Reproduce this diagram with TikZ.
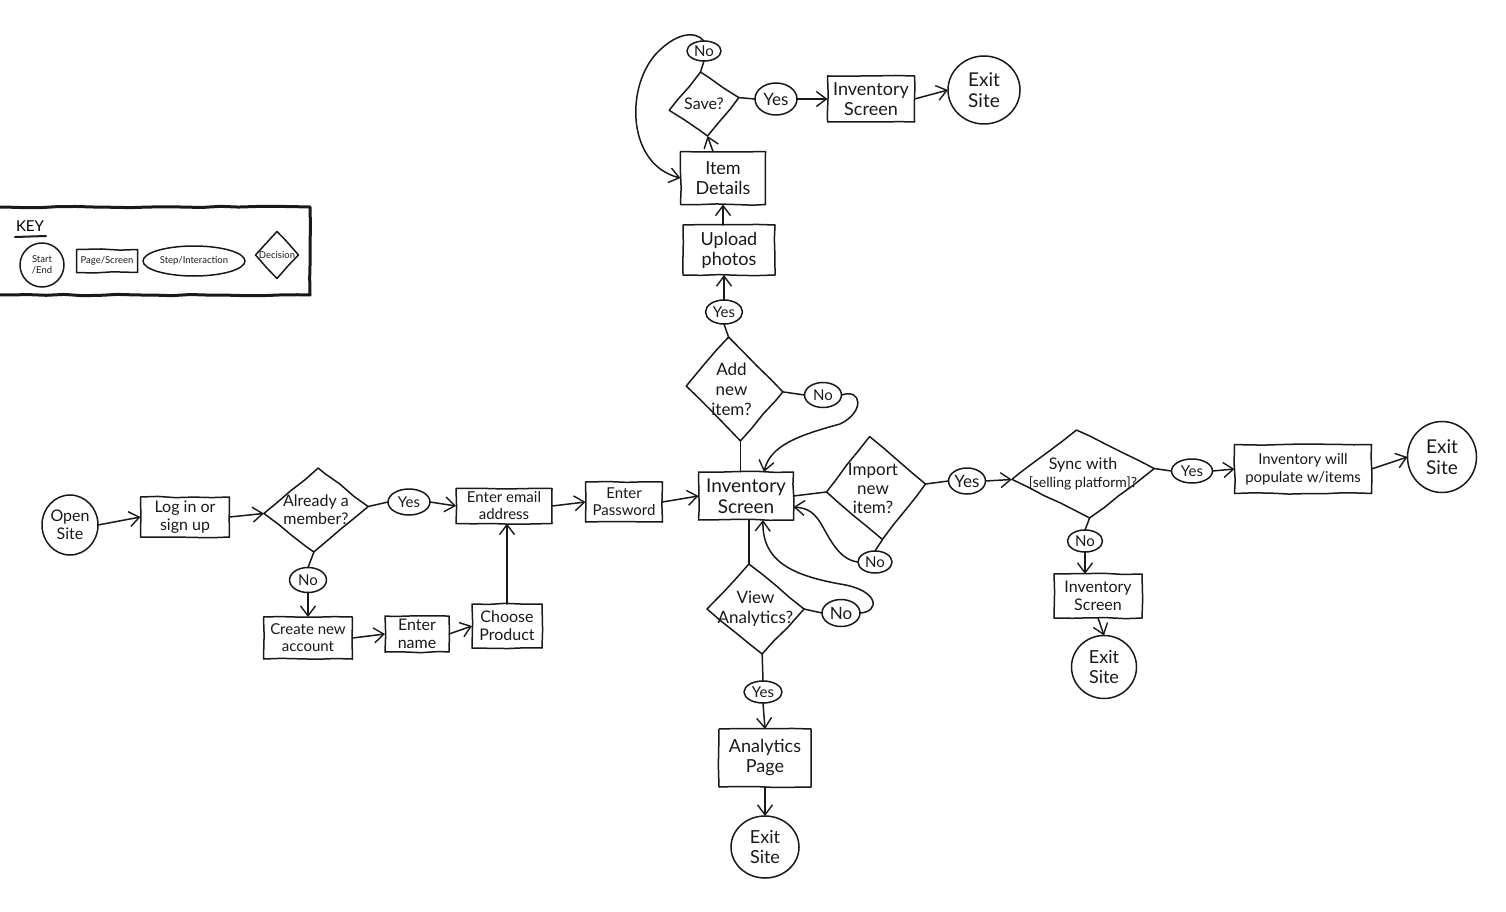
\documentclass[tikz,border=0pt]{standalone}
\usepackage{fontspec}
\setmainfont{Lato}
\usetikzlibrary{shapes.geometric,arrows.meta,decorations.pathmorphing}
\tikzset{
  x=1pt,y=-1pt,
  ln/.style={line width=1.5pt,line cap=round,line join=round,draw=black!90},
  wob/.style={decorate,decoration={random steps,segment length=18pt,amplitude=0.7pt}},
  shp/.style={ln,inner sep=0pt,outer sep=0pt,align=center,font=\fontsize{16}{18}\selectfont,text=black!90},
  pagebox/.style={shp,rectangle,wob},
  round1/.style={shp,ellipse},
  stepell/.style={shp,ellipse,font=\fontsize{15}{17}\selectfont},
  deci/.style={shp,diamond,wob},
  every label/.style={align=center,inner sep=0pt,font=\fontsize{16}{18}\selectfont,text=black!90},
  sz/.style 2 args={minimum width=#1pt,minimum height=#2pt},
  arr/.style={ln,-{Straight Barb[length=10pt,width=15pt,line width=1.4pt]}},
  con/.style={ln},
  tiny/.style={font=\fontsize{9.5}{11}\selectfont},
}
\begin{document}
\begin{tikzpicture}
\useasboundingbox (0,0) rectangle (1506,912);
% key
\node[ln,line width=3pt,rectangle,wob,sz={318}{88}] (keyB) at (151,251) {};
\node[font=\fontsize{15}{16}\selectfont,inner sep=0pt] (keyT) at (30,226) {KEY};
\coordinate (keyU1) at (15,237);
\coordinate (keyU2) at (46,236);
\draw[ln,line width=2pt] (keyU1) -- (keyU2);
\node[round1,sz={44}{44},tiny] (kS) at (42,265) {Start\\/End};
\node[pagebox,sz={61}{23},tiny] (kP) at (107,261) {Page/Screen};
\node[stepell,sz={102}{30},tiny] (kE) at (194,261) {Step/Interaction};
\node[deci,sz={43}{47},label={[tiny]center:Decision}] (kD) at (277,255) {};
% circles
\node[round1,sz={56}{60}] (open) at (70,525) {Open\\Site};
\node[round1,sz={72}{68},font=\fontsize{19}{21}\selectfont] (exitA) at (984,90) {Exit\\Site};
\node[round1,sz={69}{71},font=\fontsize{19}{21}\selectfont] (exitB) at (1442,457) {Exit\\Site};
\node[round1,sz={65}{63},font=\fontsize{18}{20}\selectfont] (exitC) at (1104,667) {Exit\\Site};
\node[round1,sz={68}{62},font=\fontsize{18}{20}\selectfont] (exitD) at (765,847) {Exit\\Site};
% pages
\node[pagebox,sz={89}{40}] (login) at (185,517) {Log in or\\sign up};
\node[pagebox,sz={96}{35},font=\fontsize{15}{17}\selectfont] (email) at (504,506) {Enter email\\address};
\node[pagebox,sz={77}{40},font=\fontsize{15}{17}\selectfont] (pw) at (624,502) {Enter\\Password};
\node[pagebox,sz={95}{48},font=\fontsize{19}{21}\selectfont] (inv) at (746,496) {Inventory\\Screen};
\node[pagebox,sz={89}{42},font=\fontsize{15}{17}\selectfont] (create) at (308,638) {Create new\\account};
\node[pagebox,sz={64}{36}] (name) at (417,634) {Enter\\name};
\node[pagebox,sz={70}{44}] (choose) at (507,626) {Choose\\Product};
\node[pagebox,sz={92}{50},font=\fontsize{18}{20}\selectfont] (upload) at (729,250) {Upload\\photos};
\node[pagebox,sz={85}{53},font=\fontsize{18}{20}\selectfont] (item) at (723,178) {Item\\Details};
\node[pagebox,sz={87}{46},font=\fontsize{18}{20}\selectfont] (invT) at (871,99) {Inventory\\Screen};
\node[pagebox,sz={137}{49},font=\fontsize{15}{18}\selectfont] (invW) at (1303,469) {Inventory will\\populate w/items};
\node[pagebox,sz={88}{44}] (invR) at (1098,596) {Inventory\\Screen};
\node[pagebox,sz={92}{58},font=\fontsize{18}{20}\selectfont] (ana) at (765,758) {Analytics\\Page};
% decisions
\node[deci,sz={104}{84},xslant=0.05,yslant=0.067,label=center:{Already a\\member?}] (member) at (316,510) {};
\node[deci,sz={96}{104},xslant=-0.115,yslant=-0.06,label={[font=\fontsize{17}{20}\selectfont,xshift=-3pt]center:{Add\\new\\item?}}] (add) at (734.5,389) {};
\node[deci,sz={100}{103},xslant=-0.126,yslant=0.08,label={[font=\fontsize{17}{19}\selectfont,xshift=-3pt]center:{Import\\new\\item?}}] (import) at (876,488) {};
\node[deci,sz={97}{90},xslant=-0.148,label={[font=\fontsize{17}{20}\selectfont]center:{View\\Analytics?}}] (view) at (755.5,609) {};
\node[deci,sz={144}{88},xslant=-0.15,yslant=0.076,label={center:{Sync with\\{\fontsize{14}{18}\selectfont [selling platform]?}}}] (sync) at (1083,474) {};
\node[deci,sz={71}{64},xslant=-0.11,yslant=0.18,label={[font=\fontsize{16}{19}\selectfont]center:Save?}] (save) at (704,104) {};
% yes/no
\node[stepell,sz={42}{26}] (yMember) at (409,502) {Yes};
\node[stepell,sz={37}{25}] (nMember) at (308,580) {No};
\node[stepell,sz={37}{24}] (yAdd) at (724,312) {Yes};
\node[stepell,sz={37}{25}] (nAdd) at (823,395) {No};
\node[stepell,sz={37}{26},font=\fontsize{17}{19}\selectfont] (yImport) at (967,481) {Yes};
\node[stepell,sz={34}{22}] (nImport) at (875,562) {No};
\node[stepell,sz={38}{27},font=\fontsize{17}{19}\selectfont] (nView) at (841,613) {No};
\node[stepell,sz={38}{22}] (yView) at (763,692) {Yes};
\node[stepell,sz={41}{24}] (ySync) at (1192,471) {Yes};
\node[stepell,sz={35}{22}] (nSync) at (1085,541) {No};
\node[stepell,sz={42}{32},font=\fontsize{17}{19}\selectfont] (ySave) at (776,99) {Yes};
\node[stepell,sz={34}{20}] (nSave) at (704,51) {No};
% connectors
\draw[arr] (open.east) -- (login.west);
\draw[arr] (login.east) -- (member.west);
\draw[con] (member.east) -- (yMember.west);
\draw[arr] (yMember.east) -- (email.west);
\draw[arr] (email.east) -- (pw.west);
\draw[arr] (pw.east) -- (inv.west);
\draw[con] (member.south) -- (nMember.north);
\draw[arr] (nMember.south) -- (nMember.south |- create.north);
\draw[arr] (create.east) -- (name.west);
\draw[arr] (name.east) -- (choose.west);
\draw[arr] (choose.north) -- (choose.north |- email.south);
\draw[con] (add.south) -- (add.south |- inv.north);
\draw[con] (add.north) -- (yAdd.south);
\draw[arr] (yAdd.north) -- (yAdd.north |- upload.south);
\draw[arr] (item.south |- upload.north) -- (item.south);
\draw[arr] ([xshift=-10pt]item.north) -- (save.south);
\draw[con] (save.east) -- (ySave.west);
\draw[arr] (ySave.east) -- (invT.west);
\draw[arr] (invT.east) -- (exitA.west);
\draw[con] (save.north) -- (nSave.south);
\draw[arr] (nSave.north) .. controls (695,30) and (675,33) .. (655,55) .. controls (625,90) and (628,165) .. (item.west);
\draw[con] (add.east) -- (nAdd.west);
\draw[arr] (nAdd.east) .. controls (862,388) and (865,412) .. (840,424) .. controls (800,435) and (770,445) .. ([xshift=18pt]inv.north);
\draw[con] (inv.east) -- (import.west);
\draw[con] (import.east) -- (yImport.west);
\draw[arr] (yImport.east) -- (sync.west);
\draw[con] (sync.east) -- (ySync.west);
\draw[arr] (ySync.east) -- (invW.west);
\draw[arr] (invW.east) -- (exitB.west);
\draw[con] (sync.south) -- (nSync.north);
\draw[arr] (nSync.south) -- (nSync.south |- invR.north);
\draw[arr] (invR.south) -- (exitC.north);
\draw[con] (import.south) -- (nImport.north);
\draw[arr] (nImport.west) .. controls (838,560) and (828,535) .. (820,522) .. controls (812,510) and (805,508) .. ([yshift=-11pt]inv.east);
\draw[con] (view.north) -- (view.north |- inv.south);
\draw[con] (view.east) -- (nView.west);
\draw[arr] (nView.east) .. controls (880,612) and (880,590) .. (840,584) .. controls (790,575) and (762,560) .. ([xshift=17pt]inv.south);
\draw[con] (view.south) -- (yView.north);
\draw[arr] (yView.south) -- (ana.north);
\draw[arr] (ana.south) -- (exitD.north);
\end{tikzpicture}
\end{document}
